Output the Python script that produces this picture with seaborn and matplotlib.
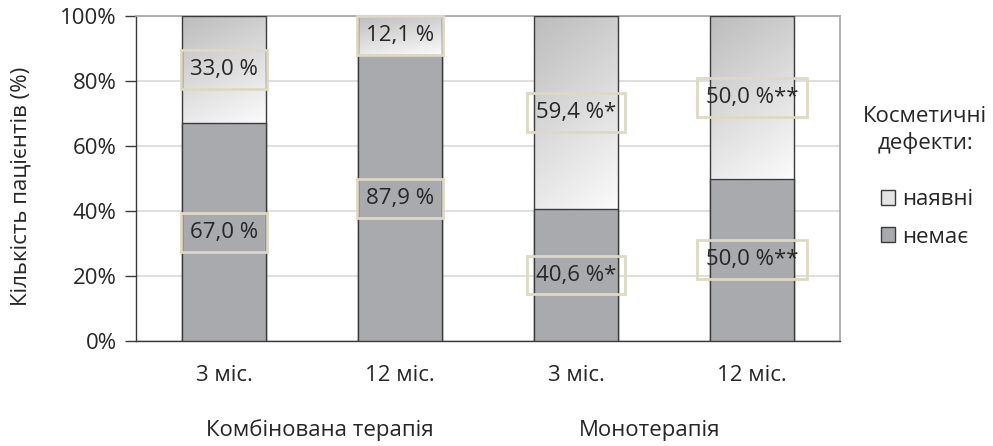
import numpy as np
import pandas as pd
import matplotlib
matplotlib.use("Agg")
import matplotlib.pyplot as plt
import seaborn as sns
from matplotlib.patches import Patch
from matplotlib.colors import LinearSegmentedColormap
from matplotlib.ticker import FixedLocator

# --- data -------------------------------------------------------------
groups = ["Комбінована терапія", "Комбінована терапія", "Монотерапія", "Монотерапія"]
periods = ["3 міс.", "12 міс.", "3 міс.", "12 міс."]
absent = [67.0, 87.9, 40.6, 50.0]     # немає дефектів
present = [33.0, 12.1, 59.4, 50.0]    # дефекти наявні
marks = ["", "", "*", "**"]           # significance marks
group_names = ["Комбінована терапія", "Монотерапія"]
legend_labels = ["наявні", "немає"]
legend_title = "Косметичні\nдефекти:"
y_label = "Кількість пацієнтів (%)"

# --- style ------------------------------------------------------------
sns.set_theme(style="white")
plt.rcParams["font.family"] = ["Open Sans", "DejaVu Sans"]
TXT = "#262626"
DARK = "#3a3a3a"
GRAY_BAR = "#a9aaae"
BOX_EDGE = "#ddd9c3"
FS = 16

keys = [f"{g} | {p}" for g, p in zip(groups, periods)]
df = pd.DataFrame({
    "key": keys,
    "absent": absent,
    "total": [a + b for a, b in zip(absent, present)],
})

fig = plt.figure(figsize=(9.93, 4.46), dpi=100)
ax = fig.add_axes([136 / 993, 1 - 341 / 446, (840 - 136) / 993, (341 - 16) / 446])

# full-height bars (outline of the upper segment)
sns.barplot(data=df, x="key", y="total", order=keys, color="white", saturation=1,
            width=0.48, edgecolor=DARK, linewidth=1.0, ax=ax, zorder=3)
top_bars = list(ax.containers[0])
# lower segment
sns.barplot(data=df, x="key", y="absent", order=keys, color=GRAY_BAR, saturation=1,
            width=0.48, edgecolor=DARK, linewidth=1.0, ax=ax, zorder=4)

# gradient fill for the upper segments
cmap = LinearSegmentedColormap.from_list("grad", ["#bcbcbc", "#fbfbfb"])
n = 80
u, v = np.meshgrid(np.linspace(0, 1, n), np.linspace(0, 1, n))
grad = 0.72 * v + 0.28 * u
for i, bar in enumerate(top_bars):
    bar.set_facecolor("none")
    x0, w = bar.get_x(), bar.get_width()
    im = ax.imshow(grad, cmap=cmap, vmin=0, vmax=1, origin="upper", aspect="auto",
                   extent=(x0, x0 + w, absent[i], absent[i] + present[i]),
                   zorder=2, interpolation="bilinear")
    im.set_clip_path(bar)

# value labels in boxes
def fmt(v, m):
    return f"{v:.1f}".replace(".", ",") + " %" + m

box = dict(boxstyle="square,pad=0.4", fc="none", ec=BOX_EDGE, lw=2.0)
for i in range(len(keys)):
    ax.text(i, absent[i] / 2, fmt(absent[i], marks[i]), ha="center", va="center",
            fontsize=FS, color=TXT, bbox=box, zorder=6)
    ax.text(i, absent[i] + present[i] / 2, fmt(present[i], marks[i]), ha="center",
            va="center", fontsize=FS, color=TXT, bbox=box, zorder=6)

# axes
ax.set_xlim(-0.5, len(keys) - 0.5)
ax.set_ylim(0, 100)
ax.set_yticks(np.arange(0, 101, 20))
ax.set_yticklabels([f"{t}%" for t in range(0, 101, 20)], fontsize=FS, color=TXT)
ax.set_xticks(range(len(keys)))
ax.set_xticklabels(periods, fontsize=FS, color=TXT)
ax.xaxis.set_minor_locator(FixedLocator(np.arange(-0.5, len(keys), 1.0)))
ax.tick_params(axis="x", which="major", length=0, pad=17)
ax.tick_params(axis="x", which="minor", length=6, width=1, color="#606060", direction="out")
ax.tick_params(axis="y", which="major", length=8, width=1, color=DARK, direction="out",
               left=True, pad=6)
ax.set_xlabel("")
ax.set_ylabel(y_label, fontsize=FS, color=TXT)
ax.yaxis.set_label_coords(-0.148, 0.477)

ax.yaxis.grid(True, color="#d9d9d9", lw=1.2, zorder=0)
ax.set_axisbelow(True)
for side in ["left", "bottom"]:
    ax.spines[side].set_color(DARK)
    ax.spines[side].set_linewidth(1.0)
for side in ["top", "right"]:
    ax.spines[side].set_visible(True)
    ax.spines[side].set_color("#a6a6a6")
    ax.spines[side].set_linewidth(1.2)

# group labels under the period labels
for name, xc in zip(group_names, [0.545, 2.42]):
    ax.text(xc, -0.274, name, transform=ax.get_xaxis_transform(), ha="center",
            va="center", fontsize=FS, color=TXT)

# legend
fig.text(925 / 993, 1 - 130 / 446, legend_title, ha="center", va="center",
         fontsize=FS, color=TXT, linespacing=1.3)
handles = [Patch(fc="#e4e4e4", ec=DARK, lw=1.0, label=legend_labels[0]),
           Patch(fc=GRAY_BAR, ec=DARK, lw=1.0, label=legend_labels[1])]
ax.legend(handles=handles, loc="upper left", bbox_to_anchor=(881 / 993, 1 - 189 / 446),
          bbox_transform=fig.transFigure, frameon=False, fontsize=FS,
          handlelength=0.65, handleheight=0.65, handletextpad=0.3, labelspacing=0.75,
          borderpad=0, borderaxespad=0, labelcolor=TXT)

fig.savefig("out.png", dpi=100)
